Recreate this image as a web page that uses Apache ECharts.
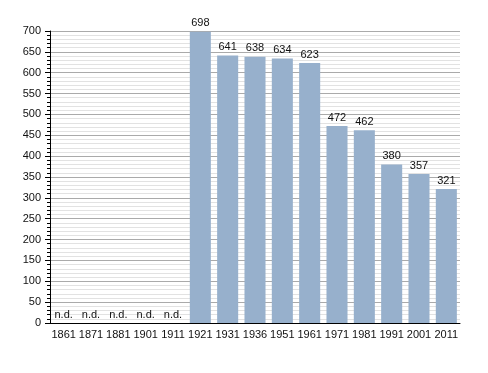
<!DOCTYPE html>
<html>
<head>
<meta charset="utf-8">
<script src="https://cdn.jsdelivr.net/npm/echarts@6/dist/echarts.min.js"></script>
<style>html,body{margin:0;padding:0;background:#fff}#c{width:488px;height:373px}</style>
</head>
<body>
<div id="c"></div>
<script>
var categories = ['1861','1871','1881','1901','1911','1921','1931','1936','1951','1961','1971','1981','1991','2001','2011'];
var population = [null,null,null,null,null,698,641,638,634,623,472,462,380,357,321];
var yTicks = [0,50,100,150,200,250,300,350,400,450,500,550,600,650,700];

var chart = echarts.init(document.getElementById('c'));
var font = 'Liberation Sans, Arial, sans-serif';
chart.setOption({
  animation: false,
  grid: {left: 50, right: 28, top: 31, bottom: 50, containLabel: false},
  xAxis: {
    type: 'category',
    data: categories,
    axisLine: {show: true, lineStyle: {color: '#000', width: 1}},
    axisTick: {show: false},
    axisLabel: {color: '#111', fontSize: 11, fontFamily: font, margin: 6, interval: 0}
  },
  yAxis: {
    type: 'value',
    min: yTicks[0],
    max: yTicks[yTicks.length - 1],
    interval: 50,
    axisLine: {show: true, lineStyle: {color: '#000', width: 1}},
    axisTick: {show: true, length: 5, lineStyle: {color: '#000'}},
    minorTick: {show: true, splitNumber: 5, length: 3, lineStyle: {color: '#000'}},
    axisLabel: {color: '#111', fontSize: 11, fontFamily: font, margin: 9},
    splitLine: {show: true, lineStyle: {color: '#aaaaaa', width: 1}},
    minorSplitLine: {show: true, lineStyle: {color: '#e2e2e2', width: 1}}
  },
  series: [{
    type: 'bar',
    barWidth: '77%',
    data: population.map(function (v) { return v === null ? {value: 0, nd: true} : v; }),
    itemStyle: {color: '#97b0cc'},
    label: {
      show: true,
      position: 'top',
      distance: 3,
      color: '#111',
      fontSize: 11,
      fontFamily: font,
      formatter: function (p) { return population[p.dataIndex] === null ? 'n.d.' : p.value; }
    }
  }]
});
</script>
</body>
</html>
